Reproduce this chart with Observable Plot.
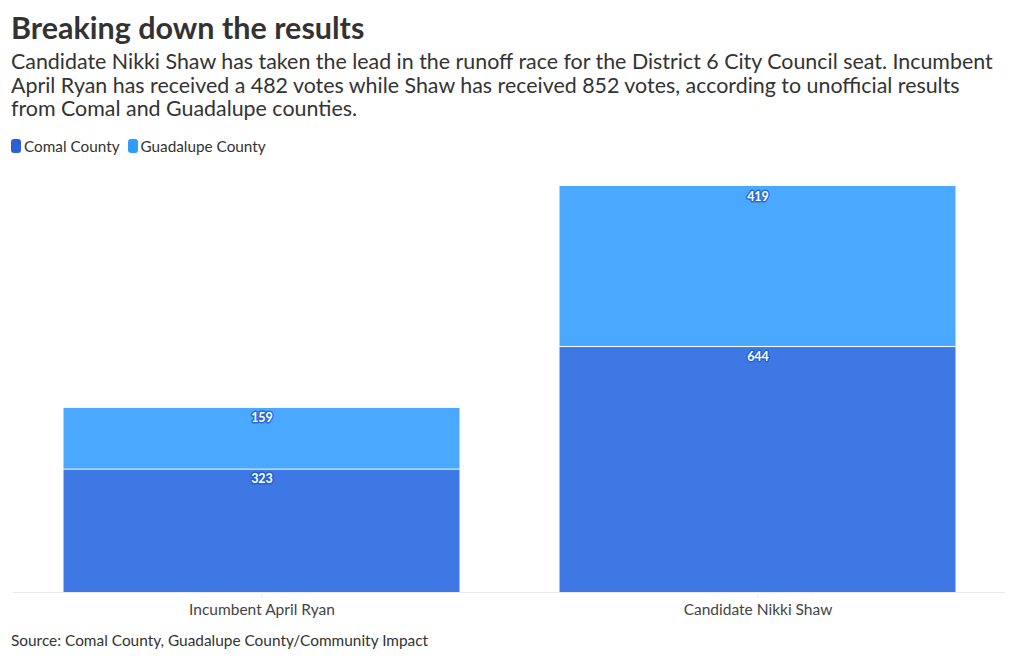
<!DOCTYPE html>
<html>
<head>
<meta charset="utf-8">
<script src="https://cdn.jsdelivr.net/npm/d3@7"></script>
<script src="https://cdn.jsdelivr.net/npm/@observablehq/plot@0.6"></script>
<style>
  body { margin: 0; background: #fff; font-family: Lato, "Noto Sans", sans-serif; color: #333; }
  #wrap { position: relative; width: 1020px; height: 660px; overflow: hidden; }
  .abs { position: absolute; left: 11px; white-space: nowrap; }
  #title { top: 8px; font-size: 30.5px; font-weight: 700; color: #333; line-height: 38px; }
  #sub { top: 50px; font-size: 21.4px; line-height: 23.5px; color: #333; }
  #legend { top: 136px; font-size: 15.3px; color: #333; line-height: 20px; display: flex; align-items: center; }
  .sw { display: inline-block; width: 10px; height: 14px; border-radius: 3px; margin-right: 3px; }
  .item { display: inline-flex; align-items: center; margin-right: 8px; }
  #chart { position: absolute; top: 160px; left: 0; }
  #source { top: 630px; font-size: 15.4px; line-height: 20px; color: #333; }
</style>
</head>
<body>
<div id="wrap">
  <div id="title" class="abs">Breaking down the results</div>
  <div id="sub" class="abs">Candidate Nikki Shaw has taken the lead in the runoff race for the District 6 City Council seat. Incumbent<br>April Ryan has received a 482 votes while Shaw has received 852 votes, according to unofficial results<br>from Comal and Guadalupe counties.</div>
  <div id="legend" class="abs"></div>
  <div id="chart"></div>
  <div id="source" class="abs">Source: Comal County, Guadalupe County/Community Impact</div>
</div>
<script>
const candidates = ["Incumbent April Ryan", "Candidate Nikki Shaw"];
const counties = ["Comal County", "Guadalupe County"];
const comalVotes = [323, 644];
const guadalupeVotes = [159, 419];
const barColors = ["#3e78e4", "#4aa9ff"];
const swatchColors = ["#2a5fd8", "#2f9cff"];

const data = [];
candidates.forEach((c, i) => {
  data.push({candidate: c, county: counties[0], votes: comalVotes[i]});
  data.push({candidate: c, county: counties[1], votes: guadalupeVotes[i]});
});

const legend = document.getElementById("legend");
counties.forEach((c, i) => {
  const s = document.createElement("span");
  s.className = "item";
  s.innerHTML = `<span class="sw" style="background:${swatchColors[i]}"></span>${c}`;
  legend.appendChild(s);
});

const maxTotal = d3.max(candidates, (c, i) => comalVotes[i] + guadalupeVotes[i]);

const chart = Plot.plot({
  width: 1020,
  height: 465,
  marginLeft: 13,
  marginRight: 15,
  marginTop: 26,
  marginBottom: 33,
  style: {fontFamily: "Lato, 'Noto Sans', sans-serif", background: "transparent"},
  x: {domain: candidates, paddingInner: 0.2, paddingOuter: 0.1, label: null},
  y: {domain: [0, maxTotal], axis: null},
  color: {domain: counties, range: barColors},
  marks: [
    Plot.barY(data, Plot.stackY({x: "candidate", y: "votes", fill: "county", stroke: "#fff", strokeWidth: 1, insetTop: -0.5, insetBottom: -0.5})),
    Plot.ruleY([0], {stroke: "#e8e8e8"}),
    Plot.axisX({tickSize: 6, stroke: "#eee", fill: "#444", fontSize: 15.5, tickPadding: 5, label: null}),
    Plot.text(data, Plot.stackY2({x: "candidate", y: "votes", z: "county", text: d => String(d.votes), dy: 10, fill: "#fff", stroke: "#1f5fcf", strokeWidth: 3, strokeOpacity: 0.85, fontWeight: 700, fontSize: 12.5}))
  ]
});
document.getElementById("chart").appendChild(chart);
</script>
</body>
</html>
